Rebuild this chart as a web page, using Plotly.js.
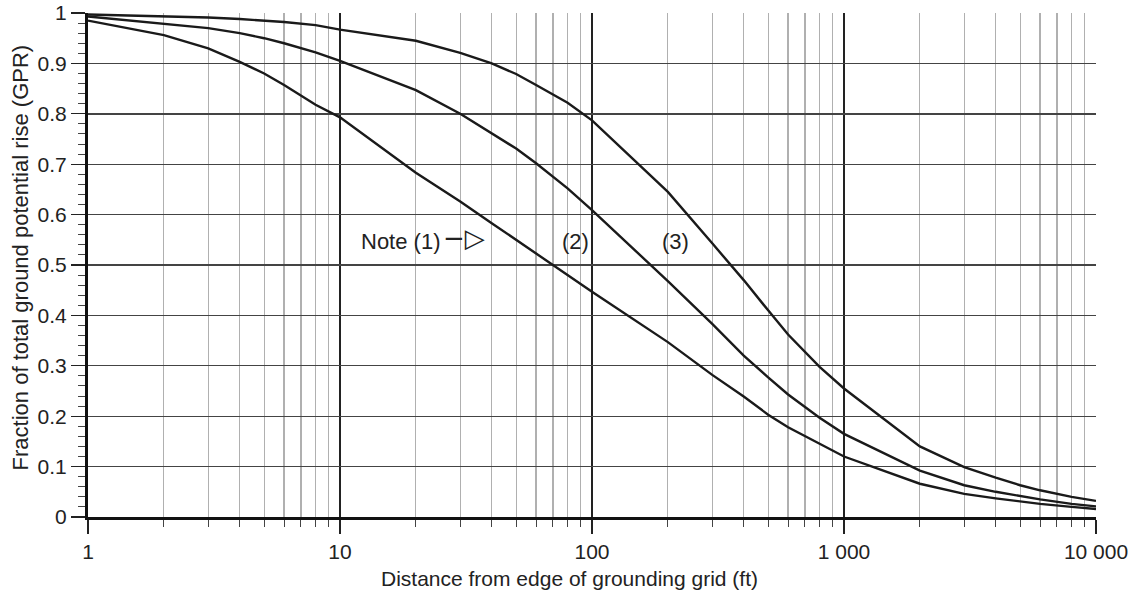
<!DOCTYPE html>
<html>
<head>
<meta charset="utf-8">
<script src="https://cdn.plot.ly/plotly-3.0.1.min.js"></script>
<style>html,body{margin:0;padding:0;background:#fff;}#chart{width:1133px;height:599px;}</style>
</head>
<body>
<div id="chart"></div>
<script>
// Distance from edge of grounding grid (ft)
const distance = [1,2,3,4,5,6,8,10,20,30,40,50,60,80,100,200,300,400,500,600,800,1000,2000,3000,4000,5000,6000,8000,10000];
// Fraction of GPR, curve (1)
const curve1 = [0.985,0.956,0.93,0.903,0.88,0.857,0.818,0.793,0.683,0.626,0.583,0.55,0.523,0.48,0.447,0.347,0.282,0.239,0.203,0.178,0.146,0.12,0.066,0.046,0.037,0.031,0.026,0.02,0.016];
// curve (2)
const curve2 = [0.993,0.979,0.97,0.96,0.95,0.94,0.922,0.905,0.847,0.80,0.762,0.731,0.702,0.652,0.609,0.468,0.383,0.32,0.277,0.243,0.197,0.165,0.092,0.063,0.05,0.041,0.035,0.026,0.021];
// curve (3)
const curve3 = [0.997,0.994,0.991,0.988,0.985,0.982,0.976,0.967,0.945,0.921,0.90,0.879,0.857,0.822,0.787,0.645,0.543,0.47,0.41,0.362,0.298,0.255,0.14,0.099,0.078,0.063,0.053,0.04,0.032];

const xTickVals = [1,10,100,1000,10000];
const xTickText = ['1','10','100','1 000','10 000'];
const xTitle = 'Distance from edge of grounding grid (ft)';
const yTitle = 'Fraction of total ground potential rise (GPR)';

const minorX = [];
for (let d = 1; d < 10000; d *= 10) { for (let k = 2; k <= 9; k++) minorX.push(d*k); }

const font = 'Liberation Sans, Arial, sans-serif';
const ink = '#222';
const lineStyle = {color:'#1a1a1a', width:2.4};
const traces = [curve1, curve2, curve3].map(c => ({
  x: distance, y: c, type:'scatter', mode:'lines', line: lineStyle, hoverinfo:'skip'
}));

const layout = {
  width:1133, height:599,
  margin:{l:88, r:37, t:13, b:82, pad:0},
  paper_bgcolor:'#fff', plot_bgcolor:'#fff',
  showlegend:false,
  font:{family:font, size:21, color:ink},
  xaxis:{
    type:'log', range:[0,4],
    tickmode:'array', tickvals:xTickVals, ticktext:xTickText,
    ticks:'outside', ticklen:14, tickwidth:1.2, tickcolor:ink,
    showgrid:true, gridcolor:'#222', gridwidth:1.3,
    showline:true, linecolor:'#111', linewidth:3,
    zeroline:false,
    minor:{tickmode:'array', tickvals:minorX, ticks:'outside', ticklen:7, tickwidth:1, tickcolor:'#444',
           showgrid:true, gridcolor:'#b0b0b0', gridwidth:1.2},
    tickfont:{size:21, color:ink}
  },
  yaxis:{
    range:[0,1], dtick:0.1, tick0:0,
    ticks:'outside', ticklen:14, tickwidth:1.2, tickcolor:ink,
    showgrid:true, gridcolor:'#444', gridwidth:1.4,
    showline:true, linecolor:'#111', linewidth:3,
    zeroline:false,
    minor:{dtick:0.02, ticks:'outside', ticklen:7, tickwidth:1, tickcolor:'#444', showgrid:false},
    tickfont:{size:21, color:ink}
  },
  annotations:[
    {x:0.4777, y:-0.123, xref:'paper', yref:'paper', text:xTitle, showarrow:false, xanchor:'center', yanchor:'middle', font:{size:21, color:ink}},
    {x:-0.0675, y:0.515, xref:'paper', yref:'paper', text:yTitle, textangle:-90, showarrow:false, xanchor:'center', yanchor:'middle', font:{size:22, color:ink}},
    {x:Math.log10(11.9), y:0.547, xref:'x', yref:'y', text:'Note (1)', showarrow:false, xanchor:'left', yanchor:'middle', font:{size:22, color:ink}},
    {x:Math.log10(31), y:0.553, xref:'x', yref:'y', text:'−▷', showarrow:false, xanchor:'center', yanchor:'middle', font:{size:26, color:ink, family:'DejaVu Sans'}},
    {x:Math.log10(86), y:0.547, xref:'x', yref:'y', text:'(2)', showarrow:false, xanchor:'center', yanchor:'middle', font:{size:22, color:ink}},
    {x:Math.log10(215), y:0.547, xref:'x', yref:'y', text:'(3)', showarrow:false, xanchor:'center', yanchor:'middle', font:{size:22, color:ink}}
  ]
};

Plotly.newPlot('chart', traces, layout, {displayModeBar:false, staticPlot:true});
</script>
</body>
</html>
